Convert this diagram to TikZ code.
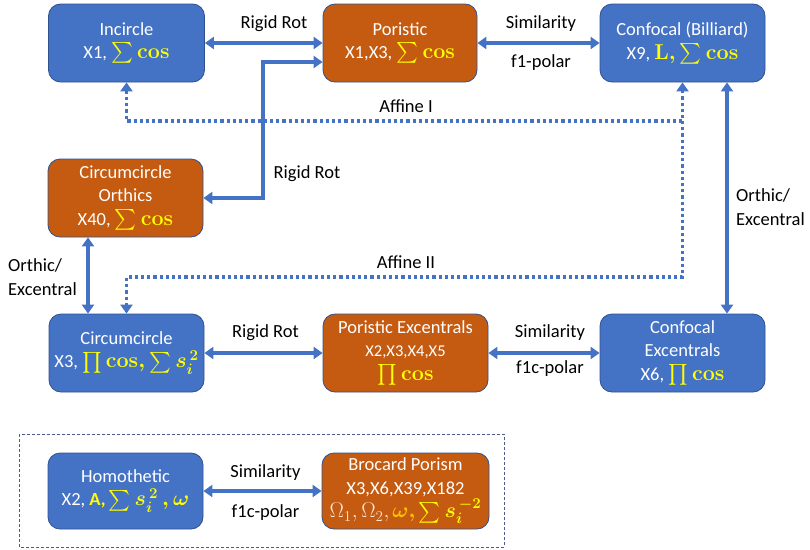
\RequirePackage{fix-cm}
\documentclass[tikz,border=0pt]{standalone}
\usepackage[no-math]{fontspec}
\setmainfont{Carlito}
\usepackage{amsmath}
\usetikzlibrary{arrows.meta}
\definecolor{bfill}{HTML}{4472C4}
\definecolor{ofill}{HTML}{C55A11}
\definecolor{bdraw}{HTML}{2F528F}
\definecolor{hl}{HTML}{FFFF00}
\definecolor{hlo}{HTML}{FFC000}
\definecolor{pale}{HTML}{FBE5D6}
\definecolor{dbox}{HTML}{4A5E8A}
\newcommand{\mfs}{\fontsize{21.5}{23.5}\selectfont}
\newcommand{\hlm}[1]{{\mfs\color{hl}\boldmath$#1$}}
\tikzset{
  box/.style={draw=bdraw, line width=0.8pt, rounded corners=12pt, text=white, align=center,
    font=\fontsize{18.5}{23.5}\selectfont, inner sep=0pt},
  bbox/.style={box, fill=bfill},
  obox/.style={box, fill=ofill},
  lbl/.style={font=\fontsize{18.5}{23.5}\selectfont, text=black, inner sep=0pt},
  arr/.style={draw=bfill, line width=3.2pt, {Triangle[length=9pt,width=12pt]}-{Triangle[length=9pt,width=12pt]}},
  dotl/.style={draw=bfill, line width=3.2pt, dash pattern=on 3.2pt off 3pt},
}
\begin{document}
\begin{tikzpicture}[x=1pt,y=-1pt]
\useasboundingbox (0,0) rectangle (810,549);
% boxes
\node[bbox, minimum width=156pt, minimum height=78pt] (inc) at (126.5,43) {Incircle\\X1, \hlm{\sum\mathbf{cos}}};
\node[obox, minimum width=154pt, minimum height=78pt] (por) at (400,43) {Poristic\\X1,X3, \hlm{\sum\mathbf{cos}}};
\node[bbox, minimum width=165pt, minimum height=78pt] (conf) at (682.5,43) {Confocal (Billiard)\\X9, \hlm{\mathbf{L},\sum\mathbf{cos}}};
\node[obox, minimum width=155pt, minimum height=78pt] (orth) at (125.5,198) {Circumcircle\\Orthics\\X40, \hlm{\sum\mathbf{cos}}};
\node[bbox, minimum width=155pt, minimum height=78pt] (circ) at (126.5,353) {Circumcircle\\X3, \hlm{\prod\mathbf{cos},\sum s_i^{\,2}}};
\node[obox, minimum width=165pt, minimum height=78pt] (pexc) at (405.5,353) {Poristic Excentrals\\{\fontsize{16.5}{20}\selectfont X2,X3,X4,X5}\\\hlm{\prod\mathbf{cos}}};
\node[bbox, minimum width=165pt, minimum height=78pt] (cexc) at (682.5,353) {Confocal\\Excentrals\\X6, \hlm{\prod\mathbf{cos}}};
\node[bbox, minimum width=155pt, minimum height=76pt] (homo) at (125.5,491) {Homothetic\\X2, {\color{hl}\textbf{A,}}\,\hlm{\sum s_i^{\,2}\,,\omega}};
\node[obox, minimum width=167pt, minimum height=76pt] (broc) at (405.5,491) {Brocard Porism\\X3,X6,X39,X182\\{\mfs\color{pale}$\Omega_1,\Omega_2,$}\,{\mfs\color{hlo}\boldmath$\omega,$}\,\hlm{\sum s_i^{\,-2}}};
\draw[dbox, line width=0.8pt, dash pattern=on 3pt off 2pt] (19,434) rectangle (504,547);
% coordinates
\coordinate (rr) at (263,62);
\coordinate (a1) at (682.5,121);
\coordinate (a2) at (682.5,277);
\coordinate (v1) at (88,0);
\coordinate (v2) at (727,0);
% connectors
\draw[arr] (inc) -- (por);
\draw[arr] (por) -- (conf);
\draw[arr] (orth.east) -| (rr) -- (rr -| por.west);
\draw[dotl, {Triangle[length=9pt,width=12pt]}-{Triangle[length=9pt,width=12pt]}] (inc.south) |- (a1) -- (conf.south);
\draw[dotl, -{Triangle[length=9pt,width=12pt]}] (a1) -- (a2) -| (circ.north);
\draw[arr] (orth.south -| v1) -- (circ.north -| v1);
\draw[arr] (conf.south -| v2) -- (cexc.north -| v2);
\draw[arr] (circ) -- (pexc);
\draw[arr] (pexc) -- (cexc);
\draw[arr] (homo) -- (broc);
% labels
\node[lbl] (l1) at (274,24) {Rigid Rot};
\node[lbl] (l2) at (541,24) {Similarity};
\node[lbl] (l3) at (541,63) {f1-polar};
\node[lbl] (l4) at (307,174) {Rigid Rot};
\node[lbl] (l5) at (406,106) {Affine I};
\node[lbl] (l6) at (406,262) {Affine II};
\node[lbl] (l7) at (265.5,333) {Rigid Rot};
\node[lbl] (l8) at (550,333) {Similarity};
\node[lbl] (l9) at (550,369) {f1c-polar};
\node[lbl] (l10) at (265.5,473) {Similarity};
\node[lbl] (l11) at (265.5,513) {f1c-polar};
\node[lbl, anchor=west, align=left] (l12) at (8,277) {Orthic/\\Excentral};
\node[lbl, anchor=west, align=left] (l13) at (736,207) {Orthic/\\Excentral};
\end{tikzpicture}
\end{document}
